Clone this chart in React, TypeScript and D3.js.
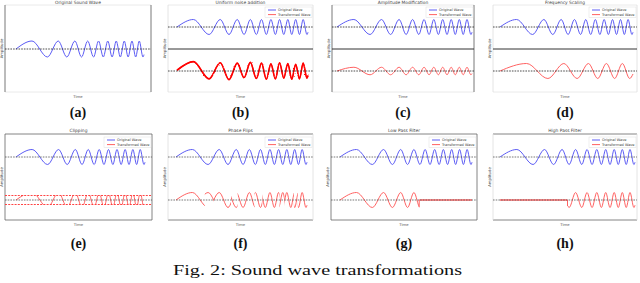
import React from "react";
import * as d3 from "d3";

// chirp extrema: time as fraction of the wave span, value in amplitude units
const waveT = [0, 0.125, 0.245, 0.33, 0.397, 0.46, 0.512, 0.56, 0.606, 0.645, 0.682, 0.717, 0.751, 0.783, 0.815, 0.846, 0.876, 0.906, 0.935, 0.963, 0.992, 1.0];
const waveV = [0, 1, -1, 1, -1, 1, -1, 1, -1, 1, -1, 1, -1, 1, -1, 1, -1, 1, -1, 1, -1, -0.7];

// (b) noisy copy, peak heights
const noisyV = [0.1, 1.25, -1.05, 1.1, -1.15, 1.05, -0.9, 1.15, -1.0, 1.05, -1.1, 0.95, -1.05, 1.1, -0.95, 1.0, -1.1, 0.9, -1.05, 1.05, -0.95, -0.6];

// (d) frequency scaled copy
const slowT = [0, 0.2, 0.36, 0.48, 0.58, 0.665, 0.735, 0.8, 0.862, 0.92, 0.975, 1.0];
const slowV = [0, 1, -1, 1, -1, 1, -1, 1, -1, 1, -1, -0.4];

const ampFactor = 0.5;
const clipLevel = 0.6;
const flipWindows = [[0.22, 0.29], [0.42, 0.47], [0.6, 0.66], [0.79, 0.83], [0.9, 0.93]];
const lowPassCut = 0.6;
const lowPassEdge = -0.95;
const highPassStart = 0.5;
const highPassEdge = -0.8;

const titles = ["Original Sound Wave", "Uniform noise addition", "Amplitude Modification", "Frequency Scaling",
  "Clipping", "Phase Flips", "Low Pass Filter", "High Pass Filter"];
const subLabels = ["(a)", "(b)", "(c)", "(d)", "(e)", "(f)", "(g)", "(h)"];
const legendLabels = ["Original Wave", "Transformed Wave"];
const caption = "Fig. 2: Sound wave transformations";

const BLUE = "#5c5cf5";
const RED = "#ff6262";
const SMALL = "DejaVu Sans, sans-serif";

// frame [x0, x1] and wave span [x0, x1] for each panel
const frames = [[5, 151], [168, 313], [332, 474], [493, 637], [5, 152], [168, 313], [331, 477], [493, 637]];
const spans = [[16, 144], [177, 308], [337, 472], [500, 633], [16, 145], [176, 307], [340, 472], [500, 635]];
// how dark the frame sides / top+bottom edges come out after the page was shrunk
const sideInk = ["#555", "#ddd", "#555", "#ddd", "#666", "#ddd", "#666", "#ddd"];
const edgeInk = ["#e4e4e4", "#e4e4e4", "#e4e4e4", "#e4e4e4", "#666", "#666", "#666", "#666"];

const zip = (ts, vs, k = 1) => ts.map((t, i) => [t, vs[i] * k]);

function Panel({ i }) {
  const [fx0, fx1] = frames[i];
  const top = i < 4;
  const fy0 = top ? 5 : 134;
  const fy1 = top ? 92 : 220;
  const amp = 7.5;
  const blueZero = i === 0 ? 49 : top ? 27 : 157;
  const redZero = top ? 71 : 200;

  const x = d3.scaleLinear().domain([0, 1]).range(spans[i]);
  const yB = d3.scaleLinear().domain([-1, 1]).range([blueZero + (i === 0 ? 8 : amp), blueZero - (i === 0 ? 8 : amp)]);
  const yR = d3.scaleLinear().domain([-1, 1]).range([redZero + amp, redZero - amp]);

  const lineB = d3.line().x(d => x(d[0])).y(d => yB(d[1])).curve(d3.curveMonotoneX);
  const lineR = d3.line().x(d => x(d[0])).y(d => yR(d[1])).curve(d3.curveMonotoneX);

  const base = zip(waveT, waveV);
  const id = "p" + i;
  const cx = (fx0 + fx1) / 2;

  let red = null;
  let defs = null;
  if (i === 1) {
    defs = (
      <filter id={id + "n"} x="-5%" y="-30%" width="110%" height="160%">
        <feTurbulence type="fractalNoise" baseFrequency="0.9" numOctaves="1" seed="4" />
        <feDisplacementMap in="SourceGraphic" scale="2.2" xChannelSelector="R" yChannelSelector="G" />
      </filter>
    );
    const d = lineR(zip(waveT, noisyV));
    red = (
      <g>
        <path d={d} fill="none" stroke="#ff1a1a" strokeWidth={1.1} />
        <path d={d} fill="none" stroke="#ff0000" strokeWidth={1.6} filter={`url(#${id}n)`} />
      </g>
    );
  } else if (i === 2) {
    red = <path d={lineR(zip(waveT, waveV, ampFactor))} fill="none" stroke={RED} strokeWidth={1} />;
  } else if (i === 3) {
    red = <path d={lineR(zip(slowT, slowV))} fill="none" stroke={RED} strokeWidth={1} />;
  } else if (i === 4) {
    defs = (
      <clipPath id={id + "c"}>
        <rect x={fx0} y={yR(clipLevel)} width={fx1 - fx0} height={yR(-clipLevel) - yR(clipLevel)} />
      </clipPath>
    );
    red = (
      <g>
        <path d={lineR(base)} fill="none" stroke={RED} strokeWidth={1} clipPath={`url(#${id}c)`} />
        {[clipLevel, -clipLevel].map(c => (
          <line key={c} x1={fx0} x2={fx1} y1={yR(c)} y2={yR(c)} stroke="#ff3030" strokeWidth={0.9} strokeDasharray="2,1.2" />
        ))}
      </g>
    );
  } else if (i === 5) {
    const inv = zip(waveT, waveV, -1);
    const starts = [-0.1, ...flipWindows.map(w => w[1])];
    const ends = [...flipWindows.map(w => w[0]), 1.1];
    defs = (
      <g>
        <clipPath id={id + "f"}>
          {flipWindows.map(([a, b]) => <rect key={a} x={x(a)} y={fy0} width={x(b) - x(a)} height={fy1 - fy0} />)}
        </clipPath>
        <clipPath id={id + "k"}>
          {starts.map((s, k) => <rect key={k} x={x(s)} y={fy0} width={x(ends[k]) - x(s)} height={fy1 - fy0} />)}
        </clipPath>
      </g>
    );
    red = (
      <g>
        <path d={lineR(base)} fill="none" stroke={RED} strokeWidth={1} clipPath={`url(#${id}k)`} />
        <path d={lineR(inv)} fill="none" stroke={RED} strokeWidth={1} clipPath={`url(#${id}f)`} />
      </g>
    );
  } else if (i === 6) {
    defs = (
      <clipPath id={id + "l"}>
        <rect x={fx0} y={fy0} width={x(lowPassCut) - fx0} height={fy1 - fy0} />
      </clipPath>
    );
    red = (
      <g>
        <path d={lineR(base)} fill="none" stroke={RED} strokeWidth={1} clipPath={`url(#${id}l)`} />
        <line x1={x(lowPassCut)} x2={x(lowPassCut)} y1={yR(lowPassEdge)} y2={yR(0)} stroke={RED} strokeWidth={1} />
        <line x1={x(lowPassCut)} x2={x(1)} y1={yR(0)} y2={yR(0)} stroke={RED} strokeWidth={1.6} />
      </g>
    );
  } else if (i === 7) {
    defs = (
      <clipPath id={id + "h"}>
        <rect x={x(highPassStart)} y={fy0} width={fx1 - x(highPassStart)} height={fy1 - fy0} />
      </clipPath>
    );
    red = (
      <g>
        <line x1={x(0)} x2={x(highPassStart)} y1={yR(0)} y2={yR(0)} stroke={RED} strokeWidth={1.6} />
        <line x1={x(highPassStart)} x2={x(highPassStart)} y1={yR(0)} y2={yR(highPassEdge)} stroke={RED} strokeWidth={1} />
        <path d={lineR(base)} fill="none" stroke={RED} strokeWidth={1} clipPath={`url(#${id}h)`} />
      </g>
    );
  }

  const zeroColor = top ? "#222" : "#555";
  const lgX = fx1 - 48;
  const lgY = top ? 7 : 137;

  return (
    <g>
      <defs>{defs}</defs>
      <line x1={fx0} x2={fx1} y1={fy0} y2={fy0} stroke={edgeInk[i]} strokeWidth={0.8} />
      <line x1={fx0} x2={fx1} y1={fy1} y2={fy1} stroke={edgeInk[i]} strokeWidth={0.8} />
      <line x1={fx0} x2={fx0} y1={fy0} y2={fy1} stroke={sideInk[i]} strokeWidth={0.8} />
      <line x1={fx1} x2={fx1} y1={fy0} y2={fy1} stroke={sideInk[i]} strokeWidth={0.8} />
      {top && i > 0 && <line x1={fx0} x2={fx1} y1={49} y2={49} stroke="#333" strokeWidth={1} />}
      <path d={lineB(base)} fill="none" stroke={BLUE} strokeWidth={1} />
      {red}
      <line x1={fx0} x2={fx1} y1={blueZero} y2={blueZero} stroke={zeroColor} strokeWidth={0.8} strokeDasharray="1.6,1.1" />
      {i > 0 && <line x1={fx0} x2={fx1} y1={redZero} y2={redZero} stroke={zeroColor} strokeWidth={0.8} strokeDasharray="1.6,1.1" />}
      <text x={cx} y={top ? 3.5 : 132} fontSize={4.4} fontFamily={SMALL} fill="#444" textAnchor="middle">{titles[i]}</text>
      <text x={cx} y={top ? 98 : 226} fontSize={3.8} fontFamily={SMALL} fill="#555" textAnchor="middle">Time</text>
      <text transform={`translate(${fx0 - 2},${(fy0 + fy1) / 2}) rotate(-90)`} fontSize={3.8} fontFamily={SMALL} fill="#444" textAnchor="middle">Amplitude</text>
      {i > 0 && (
        <g>
          <rect x={lgX} y={lgY} width={47} height={10.5} fill="white" stroke="#ddd" strokeWidth={0.5} />
          {legendLabels.map((lab, k) => (
            <g key={lab}>
              <line x1={lgX + 3} x2={lgX + 11} y1={lgY + 3 + k * 4.6} y2={lgY + 3 + k * 4.6} stroke={k === 0 ? BLUE : RED} strokeWidth={1} />
              <text x={lgX + 13} y={lgY + 4.3 + k * 4.6} fontSize={3.5} fontFamily={SMALL} fill="#444">{lab}</text>
            </g>
          ))}
        </g>
      )}
      <text x={cx} y={top ? 117 : 248} fontSize={14} fontWeight="bold" fontFamily="Liberation Serif, DejaVu Serif, serif" fill="#111" textAnchor="middle">{subLabels[i]}</text>
    </g>
  );
}

export default function App() {
  return (
    <div style={{ position: "fixed", left: 0, top: 0 }}>
      <svg width={640} height={283} style={{ display: "block", background: "white" }}>
        {d3.range(8).map(i => <Panel key={i} i={i} />)}
        <text x={317.5} y={275} fontSize={15.5} fontFamily="Liberation Serif, DejaVu Serif, serif" fill="#111" textAnchor="middle" textLength={289} lengthAdjust="spacingAndGlyphs">{caption}</text>
      </svg>
    </div>
  );
}
